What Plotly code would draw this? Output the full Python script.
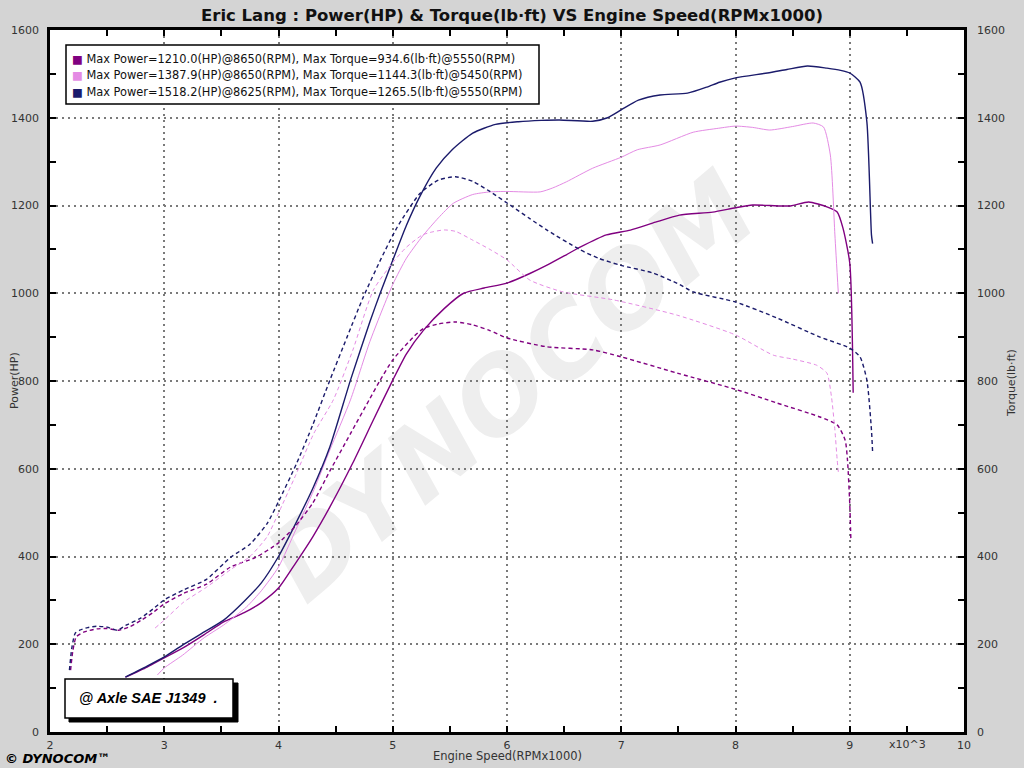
import plotly.graph_objects as go

title_text = "Eric Lang : Power(HP) &amp; Torque(lb·ft) VS Engine Speed(RPMx1000)"
run_colors = ["#800080", "#e48be4", "#1b1b6b"]
run_widths = [1.4, 1.0, 1.4]
legend_labels = [
    "Max Power=1210.0(HP)@8650(RPM), Max Torque=934.6(lb·ft)@5550(RPM)",
    "Max Power=1387.9(HP)@8650(RPM), Max Torque=1144.3(lb·ft)@5450(RPM)",
    "Max Power=1518.2(HP)@8625(RPM), Max Torque=1265.5(lb·ft)@5550(RPM)",
]

# ---- Run 1 (purple) ----
r1_p_rpm = [2.66, 2.85, 3.0, 3.16, 3.35, 3.52, 3.7, 3.85, 4.0, 4.15, 4.3, 4.45, 4.65, 4.83, 5.0,
            5.12, 5.27, 5.45, 5.62, 5.8, 6.0, 6.2, 6.35, 6.5, 6.64, 6.87, 7.08, 7.3, 7.51, 7.8,
            8.0, 8.15, 8.3, 8.48, 8.64, 8.8, 8.89, 8.94, 9.0, 9.03]
r1_power = [125, 148, 169, 191, 222, 251, 272, 295, 328, 385, 445, 513, 613, 711, 802,
            862, 916, 965, 1000, 1012, 1023, 1045, 1064, 1085, 1105, 1133, 1144, 1162, 1178, 1185,
            1195, 1201, 1200, 1199, 1208, 1197, 1185, 1149, 1069, 773]
r1_t_rpm = [2.18, 2.2, 2.23, 2.3, 2.41, 2.5, 2.6, 2.7, 2.8, 2.9, 3.0, 3.17, 3.37, 3.58, 3.8,
            4.0, 4.15, 4.3, 4.45, 4.63, 4.8, 4.89, 5.0, 5.18, 5.27, 5.4, 5.55, 5.7, 5.85, 6.0,
            6.35, 6.75, 7.0, 7.49, 8.0, 8.36, 8.74, 8.89, 8.96, 8.98, 9.0, 9.01]
r1_torque = [141, 185, 217, 228, 235, 236, 232, 240, 255, 272, 292, 316, 337, 376, 398,
             431, 470, 522, 595, 680, 760, 802, 848, 900, 920, 930, 934.6, 928, 915, 898,
             878, 871, 855, 818, 781, 750, 718, 700, 665, 620, 520, 437]

# ---- Run 2 (violet) ----
r2_p_rpm = [2.94, 3.0, 3.16, 3.35, 3.52, 3.72, 3.85, 4.0, 4.15, 4.31, 4.45, 4.63, 4.8, 5.0,
            5.12, 5.26, 5.4, 5.53, 5.7, 5.85, 6.0, 6.29, 6.4, 6.52, 6.75, 7.0, 7.14, 7.34, 7.63,
            7.85, 8.0, 8.15, 8.3, 8.5, 8.68, 8.77, 8.83, 8.87, 8.9]
r2_power = [130, 146, 175, 215, 244, 285, 322, 376, 460, 552, 643, 757, 890, 1020,
            1080, 1130, 1172, 1205, 1225, 1231, 1232, 1231, 1240, 1254, 1285, 1310, 1327, 1338, 1367,
            1376, 1381, 1378, 1372, 1380, 1388, 1379, 1315, 1133, 1000]
r2_t_rpm = [2.92, 3.0, 3.17, 3.37, 3.58, 3.75, 3.9, 4.0, 4.15, 4.31, 4.48, 4.65, 4.83, 5.0,
            5.12, 5.26, 5.35, 5.45, 5.55, 5.7, 5.85, 6.0, 6.2, 6.49, 6.93, 7.49, 8.0, 8.33,
            8.5, 8.71, 8.8, 8.84, 8.87, 8.89, 8.9]
r2_torque = [237, 255, 296, 330, 370, 400, 445, 499, 585, 681, 757, 870, 1007, 1070,
             1105, 1133, 1140, 1144.3, 1141, 1121, 1100, 1076, 1030, 1003, 985, 950, 905, 859,
             850, 836, 818, 764, 688, 620, 593]

# ---- Run 3 (navy) ----
r3_p_rpm = [2.66, 2.85, 3.0, 3.16, 3.35, 3.52, 3.7, 3.85, 4.0, 4.15, 4.3, 4.45, 4.63, 4.8,
            4.89, 5.0, 5.12, 5.24, 5.38, 5.52, 5.7, 5.9, 6.1, 6.3, 6.46, 6.75, 6.88, 7.0, 7.15,
            7.34, 7.58, 7.75, 7.86, 8.0, 8.28, 8.45, 8.63, 8.8, 8.92, 9.0, 9.09, 9.15, 9.19, 9.2]
r3_power = [125, 150, 171, 198, 228, 255, 298, 340, 400, 475, 555, 650, 802, 935,
            1000, 1075, 1155, 1222, 1285, 1327, 1365, 1385, 1391, 1394, 1395, 1392, 1400, 1418, 1440,
            1452, 1456, 1470, 1481, 1491, 1502, 1510, 1518, 1513, 1508, 1502, 1481, 1390, 1133, 1113]
r3_t_rpm = [2.17, 2.19, 2.22, 2.26, 2.33, 2.41, 2.5, 2.59, 2.67, 2.79, 2.9, 3.0, 3.17, 3.37,
            3.58, 3.75, 3.9, 4.0, 4.16, 4.3, 4.45, 4.6, 4.74, 4.9, 5.04, 5.24, 5.4, 5.55, 5.7,
            5.85, 6.05, 6.2, 6.35, 6.64, 6.8, 6.99, 7.28, 7.51, 7.63, 8.0, 8.36, 8.74, 9.0, 9.09,
            9.15, 9.19, 9.2]
r3_torque = [141, 190, 225, 232, 238, 241, 239, 232, 244, 259, 280, 301, 324, 348,
             398, 428, 475, 525, 613, 700, 802, 900, 990, 1080, 1151, 1228, 1258, 1265.5, 1255,
             1232, 1197, 1170, 1144, 1099, 1080, 1064, 1046, 1020, 1003, 980, 944, 900, 875, 855,
             802, 688, 638]

runs = [
    (r1_p_rpm, r1_power, r1_t_rpm, r1_torque),
    (r2_p_rpm, r2_power, r2_t_rpm, r2_torque),
    (r3_p_rpm, r3_power, r3_t_rpm, r3_torque),
]

TICK_FONT = dict(family="DejaVu Sans, Verdana, sans-serif", size=11, color="#333333")
PAPER = "#d4d4d4"

fig = go.Figure()
for i, (prpm, pw, trpm, tq) in enumerate(runs):
    fig.add_trace(go.Scatter(x=prpm, y=pw, mode="lines", showlegend=False,
                             line=dict(color=run_colors[i], width=run_widths[i],
                                       shape="spline", smoothing=0.6)))
    fig.add_trace(go.Scatter(x=trpm, y=tq, mode="lines", showlegend=False, yaxis="y2",
                             line=dict(color=run_colors[i], width=run_widths[i], dash="4px,3px",
                                       shape="spline", smoothing=0.6)))

axis_common = dict(
    ticks="inside", ticklen=6, tickwidth=2, tickcolor="black",
    showline=True, linewidth=2.5, linecolor="black",
    showgrid=True, gridcolor="#7a7a7a", gridwidth=1.5, griddash="2px,4px",
    zeroline=False, tickfont=TICK_FONT,
)

fig.update_layout(
    width=1024, height=768,
    paper_bgcolor=PAPER, plot_bgcolor="white",
    margin=dict(l=50, r=60, t=30, b=36),
    showlegend=False,
    xaxis=dict(range=[2, 10], tick0=2, dtick=1, mirror="ticks", ticklabelstandoff=1,
               minor=dict(dtick=0.5, ticks="inside", ticklen=6, tickwidth=2, tickcolor="black",
                          showgrid=False),
               **axis_common),
    yaxis=dict(range=[0, 1600], tick0=0, dtick=200, mirror="ticks", ticklabelstandoff=6,
               minor=dict(dtick=100, ticks="inside", ticklen=6, tickwidth=2, tickcolor="black",
                          showgrid=False),
               **axis_common),
    yaxis2=dict(range=[0, 1600], tick0=0, dtick=200, overlaying="y", side="right",
                showgrid=False, zeroline=False, ticks="", showline=False,
                tickfont=TICK_FONT, ticklabelstandoff=12),
)

shapes = []
# watermark
shapes.append(dict(type="rect", xref="paper", yref="paper", x0=0, x1=1, y0=0, y1=1,
                   layer="below", line=dict(width=0), fillcolor="rgba(0,0,0,0)",
                   label=dict(text="DYNOCOM", textangle=-40, textposition="middle center",
                              font=dict(family="DejaVu Sans, sans-serif", size=104,
                                        color="#eeeeee", weight="bold", style="italic"))))
# legend box
shapes.append(dict(type="rect", xref="paper", yref="paper",
                   x0=(66 - 50) / 914, x1=(539 - 50) / 914,
                   y0=(732 - 104) / 702, y1=(732 - 45) / 702,
                   fillcolor="white", line=dict(color="black", width=1.5), layer="above"))
# axle box shadow + box
shapes.append(dict(type="rect", xref="paper", yref="paper",
                   x0=(69 - 50) / 914, x1=(238 - 50) / 914,
                   y0=(732 - 722) / 702, y1=(732 - 683) / 702,
                   fillcolor="black", line=dict(color="black", width=1), layer="above"))
shapes.append(dict(type="rect", xref="paper", yref="paper",
                   x0=(65 - 50) / 914, x1=(233 - 50) / 914,
                   y0=(732 - 718) / 702, y1=(732 - 679) / 702,
                   fillcolor="white", line=dict(color="black", width=1.5), layer="above"))
fig.update_layout(shapes=shapes)

ann = []
ann.append(dict(text="<b>" + title_text + "</b>", xref="paper", yref="paper",
                x=(512 - 50) / 914, y=(732 - 15) / 702, xanchor="center", yanchor="middle",
                showarrow=False, font=dict(family="DejaVu Sans, sans-serif", size=16.5, color="#111111")))
for i, lab in enumerate(legend_labels):
    ann.append(dict(text="<span style='color:%s'>■</span> %s" % (run_colors[i], lab),
                    xref="paper", yref="paper", x=(70 - 50) / 914,
                    y=(732 - (59 + 16.5 * i)) / 702, xanchor="left", yanchor="middle",
                    showarrow=False,
                    font=dict(family="DejaVu Sans, Verdana, sans-serif", size=11.4, color="#111111")))
ann.append(dict(text="<b><i>@ Axle SAE J1349  .</i></b>", xref="paper", yref="paper",
                x=(148 - 50) / 914, y=(732 - 698) / 702, xanchor="center", yanchor="middle",
                showarrow=False, font=dict(family="Liberation Sans, Arial, sans-serif", size=14.5, color="black")))
ann.append(dict(text="<b><i>© DYNOCOM™</i></b>", xref="paper", yref="paper",
                x=(3 - 50) / 914, y=(732 - 758) / 702, xanchor="left", yanchor="middle",
                showarrow=False, font=dict(family="DejaVu Sans, sans-serif", size=13, color="black")))
ann.append(dict(text="Engine Speed(RPMx1000)", xref="paper", yref="paper",
                x=(507 - 50) / 914, y=(732 - 756) / 702, xanchor="center", yanchor="middle",
                showarrow=False, font=dict(family="DejaVu Sans, Verdana, sans-serif", size=11.5, color="#333333")))
ann.append(dict(text="x10^3", xref="paper", yref="paper",
                x=(907 - 50) / 914, y=(732 - 744) / 702, xanchor="center", yanchor="middle",
                showarrow=False, font=TICK_FONT))
ann.append(dict(text="Power(HP)", xref="paper", yref="paper", textangle=-90,
                x=(14 - 50) / 914, y=(732 - 381) / 702, xanchor="center", yanchor="middle",
                showarrow=False, font=TICK_FONT))
ann.append(dict(text="Torque(lb·ft)", xref="paper", yref="paper", textangle=-90,
                x=(1011 - 50) / 914, y=(732 - 383) / 702, xanchor="center", yanchor="middle",
                showarrow=False, font=TICK_FONT))
fig.update_layout(annotations=ann)

fig.write_html("out.html", config={"displayModeBar": False},
               post_script="document.body.style.margin='0px';document.body.style.overflow='hidden';")
